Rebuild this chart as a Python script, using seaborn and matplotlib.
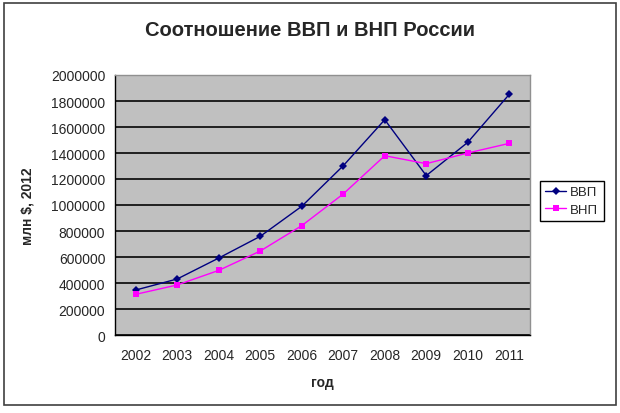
import pandas as pd
import seaborn as sns
import matplotlib.pyplot as plt
from matplotlib.ticker import FixedLocator
from matplotlib.patches import Rectangle

# %% data

years = ["2002", "2003", "2004", "2005", "2006", "2007", "2008", "2009", "2010", "2011"]
vvp = [346000, 431000, 592000, 759000, 990000, 1302000, 1656000, 1226000, 1482000, 1851000]
vnp = [313000, 385000, 497000, 646000, 841000, 1085000, 1379000, 1318000, 1400000, 1474000]
yticks = [0, 200000, 400000, 600000, 800000, 1000000, 1200000, 1400000, 1600000, 1800000, 2000000]

df = pd.DataFrame({"год": years * 2,
                   "value": vvp + vnp,
                   "series": ["ВВП"] * len(years) + ["ВНП"] * len(years)})

# %% plot

sns.set_style("white")
plt.rcParams['font.family'] = ['Liberation Sans', 'DejaVu Sans']

fig = plt.figure(figsize=(6.2, 4.14), dpi=100)
ax = fig.add_axes([115 / 620, 1 - 336 / 414, 415 / 620, 260 / 414])
ax.set_facecolor("#c0c0c0")

sns.lineplot(data=df, x="год", y="value", hue="series", style="series",
             palette={"ВВП": "#000080", "ВНП": "#ff00ff"},
             markers={"ВВП": "D", "ВНП": "s"}, dashes=False,
             linewidth=1, markersize=4, markeredgewidth=0, ax=ax)

ax.set_xlim(-0.5, len(years) - 0.5)
ax.set_ylim(0, 2000000)
ax.set_yticks(yticks)
ax.set_yticklabels([str(v) for v in yticks])
ax.xaxis.set_minor_locator(FixedLocator([i - 0.5 for i in range(len(years) + 1)]))
ax.tick_params(axis="x", which="major", length=0, pad=9, labelsize=10)
ax.tick_params(axis="x", which="minor", length=5, width=1, color="black", direction="out")
ax.tick_params(axis="y", length=5, width=1, color="black", direction="out", labelsize=10, pad=2)
ax.yaxis.grid(True, color="#202020", linewidth=1.4)
ax.set_axisbelow(True)

for side in ["top", "right"]:
    ax.spines[side].set_color("#909090")
    ax.spines[side].set_linewidth(1)
for side in ["left", "bottom"]:
    ax.spines[side].set_color("black")
    ax.spines[side].set_linewidth(1)

ax.set_xlabel("год", fontsize=10, fontweight="bold", labelpad=10)
ax.set_ylabel("млн $, 2012", fontsize=10, fontweight="bold", labelpad=12)
fig.text(0.5, 1 - 31 / 414, "Соотношение ВВП и ВНП России", ha="center", va="center",
         fontsize=14.5, fontweight="bold")

handles, labels = ax.get_legend_handles_labels()
leg = ax.legend(handles, labels, loc="center left", bbox_to_anchor=(540 / 620, 1 - 202 / 414),
                bbox_transform=fig.transFigure, frameon=True, fancybox=False,
                edgecolor="black", framealpha=1, fontsize=9.5, handlelength=1.6,
                handletextpad=0.3, borderpad=0.4, labelspacing=0.4, borderaxespad=0)
leg.get_frame().set_linewidth(1)

fig.patches.append(Rectangle((4 / 620, 8 / 414), 612 / 620, 402 / 414, transform=fig.transFigure,
                             fill=False, edgecolor="#404040", linewidth=1.2))

fig.savefig("out.png", dpi=100)
